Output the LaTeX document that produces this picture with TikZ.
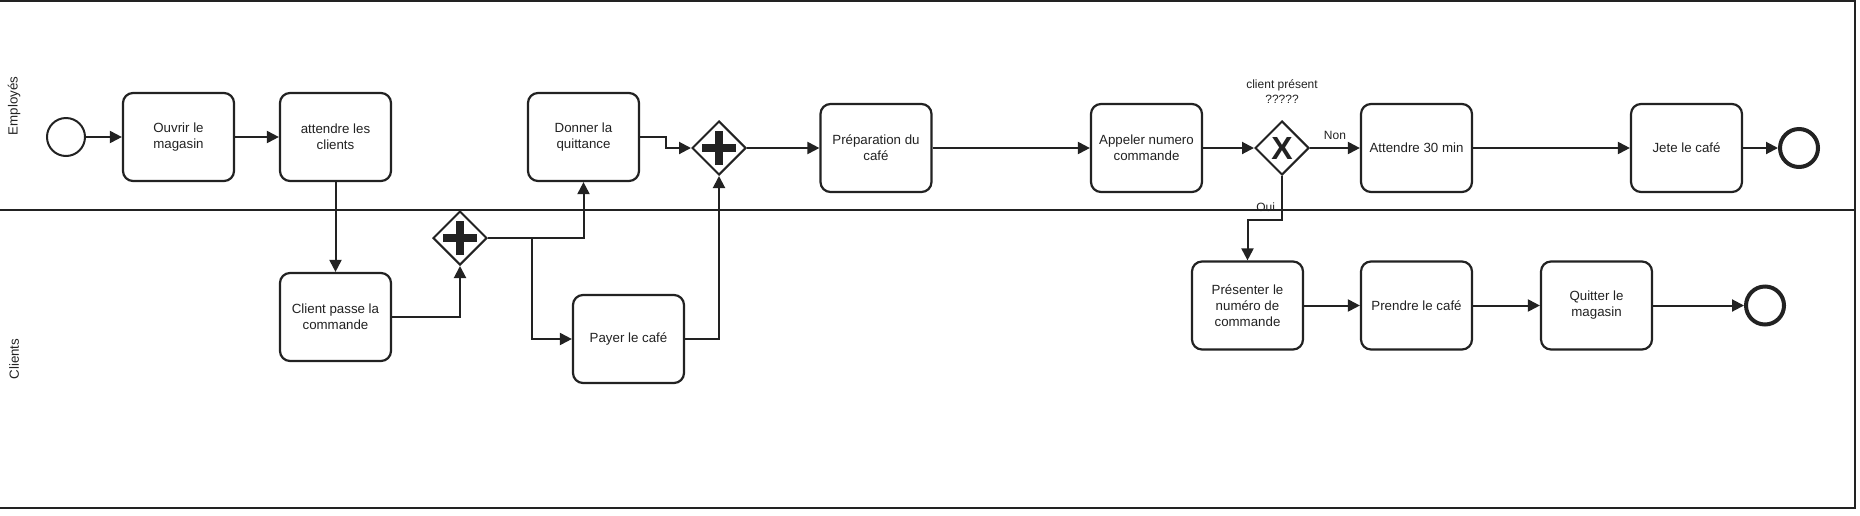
\documentclass[tikz,border=0pt]{standalone}
\usepackage{fontspec}
\setmainfont{Liberation Sans}
\usepackage{xcolor}
\usetikzlibrary{positioning, shapes.geometric, arrows.meta}
\definecolor{ink}{RGB}{34,34,34}

\begin{document}
\begin{tikzpicture}[
    x=1pt, y=1pt,
    ->,
    >={Triangle[length=12pt,width=12pt]},
    on grid,
    color=ink,
    line width=2pt,
    font=\fontsize{13.3pt}{16pt}\selectfont,
    task/.style={draw, rectangle, rounded corners=10pt, fill=white,
        minimum width=111pt, minimum height=88pt, line width=2.2pt,
        align=center, inner sep=2pt},
    gate/.style={draw, diamond, aspect=1, fill=white, inner sep=0pt,
        minimum width=54pt, minimum height=54pt, line width=2pt},
    gateand/.style={gate, path picture={
        \draw[-, line width=7.5pt]
            ([xshift=-17pt]path picture bounding box.center) --
            ([xshift=17pt]path picture bounding box.center)
            ([yshift=-17pt]path picture bounding box.center) --
            ([yshift=17pt]path picture bounding box.center);}},
    startev/.style={draw, circle, minimum size=38pt, inner sep=0pt, line width=2pt},
    endev/.style={draw, circle, minimum size=38pt, inner sep=0pt, line width=4pt},
    lanelbl/.style={rotate=90, inner sep=0pt},
    lbl/.style={font=\fontsize{12pt}{15pt}\selectfont, inner sep=1pt, align=center}
]
\useasboundingbox (0,0) rectangle (1860,-515);

% Lanes
\draw[-] (0,-1) -- (1855,-1) -- (1855,-508) -- (0,-508);
\draw[-] (0,-210) -- (1855,-210);
\node[lanelbl] (lemp) at (14,-106) {Employés};
\node[lanelbl] (lcli) at (14,-359) {Clients};

% Employés
\node[startev] (start) at (66,-137) {};
\node[task] (ouvrir) [right=112.5pt of start] {Ouvrir le\\magasin};
\node[task] (attendre) [right=157pt of ouvrir] {attendre les\\clients};
\node[task] (donner) [right=248pt of attendre] {Donner la\\quittance};
\node[gateand] (joinpar) [below right=11pt and 135.5pt of donner] {};
\node[task] (prep) [right=157pt of joinpar] {Préparation du\\café};
\node[task] (appeler) [right=270.5pt of prep] {Appeler numero\\commande};
\node[gate] (choix) [right=135.5pt of appeler] {\fontsize{32pt}{32pt}\selectfont\bfseries X};
\node[lbl] (question) [above=56pt of choix] {client présent\\?????};
\node[task] (attente) [right=134.5pt of choix] {Attendre 30 min};
\node[task] (jeter) [right=270pt of attente] {Jete le café};
\node[endev] (finA) [right=112.5pt of jeter] {};

% Clients
\node[task] (commande) [below=180pt of attendre] {Client passe la\\commande};
\node[gateand] (splitpar) [above right=79pt and 124.5pt of commande] {};
\node[task] (payer) [below right=101pt and 168.5pt of splitpar] {Payer le café};
\node[task] (presenter) [below left=157.5pt and 34.5pt of choix] {Présenter le\\numéro de\\commande};
\node[task] (prendre) [right=169pt of presenter] {Prendre le café};
\node[task] (quitter) [right=180pt of prendre] {Quitter le\\magasin};
\node[endev] (finB) [right=168.5pt of quitter] {};

% Flows
\path
(start) edge (ouvrir)
(ouvrir) edge (attendre)
(attendre) edge (commande)
(joinpar) edge (prep)
(prep) edge (appeler)
(appeler) edge (choix)
(choix) edge node[lbl, above=6pt] {Non} (attente)
(attente) edge (jeter)
(jeter) edge (finA)
(presenter) edge (prendre)
(prendre) edge (quitter)
(quitter) edge (finB);

\draw (commande.east) -| (splitpar.south);
\draw (splitpar.east) -| (donner.south);
\draw (splitpar.east) -- ++(44,0) |- (payer.west);
\draw (donner.east) -- ++(26,0) |- (joinpar.west);
\draw (payer.east) -| (joinpar.south);
\draw (choix.south) -- node[lbl, pos=0.7, left=5pt] {Oui} ++(0,-44) -| (presenter.north);

\end{tikzpicture}
\end{document}
